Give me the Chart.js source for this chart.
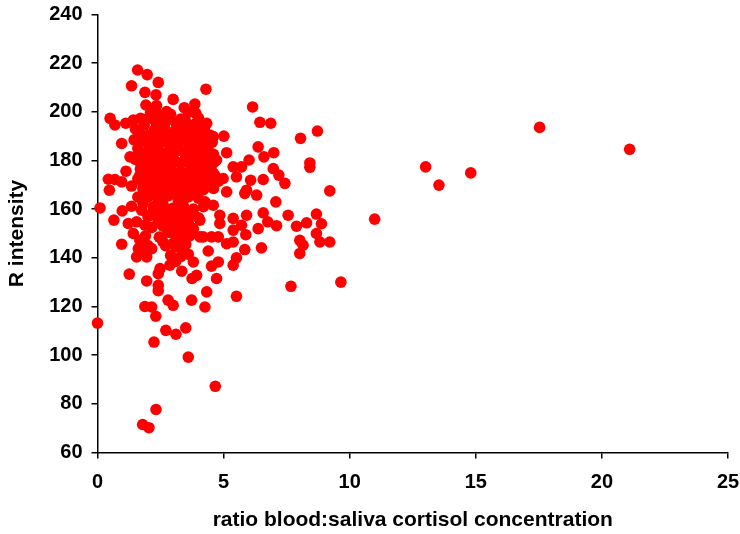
<!DOCTYPE html>
<html><head><meta charset="utf-8">
<script src="https://cdn.jsdelivr.net/npm/chart.js@4/dist/chart.umd.min.js"></script>
<style>html,body{margin:0;padding:0;background:#fff}#wrap{width:740px;height:534px;position:relative}</style>
</head><body><div id="wrap"><canvas id="c"></canvas></div>
<script>
const xTitle = 'ratio blood:saliva cortisol concentration';
const yTitle = 'R intensity';
const xTickValues = [0, 5, 10, 15, 20, 25];
const yTickValues = [60, 80, 100, 120, 140, 160, 180, 200, 220, 240];

const upperLeft = [
[1.59,217.2],[1.97,215.3],[2.41,212.1],[1.35,210.7],[1.88,208],[2.32,207],[3.0,205.1],[3.86,203.2],[4.3,209.3],[1.92,202.8],[2.34,202.6],[3.44,201.7],[2.74,200.1],[3.9,199.4],[3.86,195],[4.26,191.3],
[0.5,197.3],[0.69,194.6],[1.12,195.3],[1.42,196.6],[1.71,197.3],[0.96,187],[1.29,181.5],[1.49,181.5],[1.13,175.6],[0.43,172.3],[0.69,172.2],[0.96,171.2],[0.47,167.8],[1.35,169.5],[1.68,174],[1.88,167.1]
];
const denseCore = [
[2.1,199.5],[2.5,197.5],[2.9,199],[3.3,197],[3.6,199.8],[4.0,197.5],[2.3,200.5],
[1.5,193],[1.85,194.5],[2.25,192.5],[2.65,194],[3.05,192],[3.45,193.8],[3.85,192.5],[4.25,194],
[1.45,188.5],[1.8,190],[2.2,188],[2.6,189.5],[3.0,188],[3.4,190],[3.8,188.5],[4.2,189],[4.55,187.5],
[1.6,185],[2.0,184],[2.4,185.5],[2.8,183.5],[3.2,185],[3.6,184],[4.0,185.5],[4.4,184],
[1.5,180.5],[1.9,181.5],[2.3,180],[2.7,181],[3.1,179.5],[3.5,181.5],[3.9,180],[4.3,181],[4.65,179.5],
[1.7,176.5],[2.1,177.5],[2.5,176],[2.9,177],[3.3,175.5],[3.7,177.5],[4.1,176],[4.5,177],
[1.6,172.5],[2.0,173.5],[2.4,172],[2.8,173],[3.2,171.5],[3.6,173.5],[4.0,172],[4.4,173],[4.8,171.5],
[1.8,168.5],[2.2,169.5],[2.6,168],[3.0,169],[3.4,167.5],[3.8,169.5],[4.2,168],[4.6,168.5]
];
const denseCoreFill = [
[2.7,196.5],[3.1,195.5],[3.5,196],[2.3,196],[1.9,196.8],
[1.65,191],[2.05,190.5],[2.45,191],[2.85,190.5],[3.25,191.5],[3.65,190.5],[4.05,191],[4.45,190.5],
[1.65,187],[2.05,186.5],[2.45,187],[2.85,186.5],[3.25,187.5],[3.65,186.5],[4.05,187],[4.4,186.5],
[1.75,183],[2.15,182.5],[2.55,183],[3.0,182.5],[3.4,183.5],[3.8,182.5],[4.2,183],[4.6,182.5],
[1.7,179],[2.1,178.5],[2.5,179],[2.9,178.5],[3.3,179],[3.7,179],[4.1,178.5],[4.5,179.5],
[1.85,174.5],[2.25,175],[2.65,174.5],[3.05,174],[3.45,174.5],[3.85,174.5],[4.25,175],[4.65,174],
[1.8,170.5],[2.2,171],[2.6,170.5],[3.0,171],[3.4,170.5],[3.8,171],[4.2,170.5],[4.6,170.5],
[2.0,167],[2.4,166.5],[2.8,167],[3.2,166.5],[3.6,167],[4.0,167]
];
const lowerCore = [
[1.6,165],[2.0,165],[2.4,164],[2.8,165.5],[3.2,164],[3.6,165],[4.0,164.5],
[1.8,162.5],[2.2,161],[2.6,162],[3.0,160.5],[3.4,161.5],[3.8,160],[4.2,161],
[2.0,157],[2.4,156],[2.8,157.5],[3.2,156],[3.6,157],[4.0,156.5],
[2.15,152.5],[2.6,153],[3.0,152],[3.4,153.5],[3.8,152],
[1.9,149],[2.45,148.5],[3.0,150],[3.3,147.5],[3.65,149],
[2.0,145],[2.7,145],[3.1,144.5],[3.5,145.5],
[2.9,141],[3.3,140.5],[3.6,141.5],
[1.22,154.1],[1.55,154.8],[1.88,153.4],[1.42,150],[1.68,147.2],[1.62,143.8],[2.15,143.8],[1.55,140.4],[1.95,140.4],[1.81,141.8],
[0.98,159.3],[1.35,161.2],[1.75,159.6],
[2.2,159],[2.6,159.5],[3.0,158.5],[3.4,159],[3.8,158],[2.4,154.5],[2.8,155],[3.2,154],[3.6,154.5],[2.8,150.5],[3.2,151],[3.5,150.5],[2.6,146.5],[3.0,146],[3.4,143],[3.1,138.5]
];
const rightSpread = [
[6.15,202],[6.44,195.7],[6.87,195.3],[5.01,190],[4.33,195.3],[4.59,189.8],[5.12,183.2],[4.72,180.2],[6.37,185.6],[6.6,181.5],[6.99,183.2],[6.01,180.2],[5.71,177.4],[5.38,177.4],[6.97,176.7],[7.19,174],[7.43,170.6],[6.57,172.2],[6.07,171.9],[4.59,174.7],[4.98,172.6],[5.51,173.3],[5.12,167.1],[5.91,167.8],[6.31,165.8],[5.84,166.5],
[4.26,163],[4.59,161.6],[4.85,157.5],[5.38,156.2],[5.71,153.4],[5.91,157.5],[6.57,158.5],[6.75,154.8],[7.07,163],[7.56,157.5],[7.1,153.2],[6.37,152],[6.5,144.1],[5.88,149.5],[5.38,146.5],[5.84,143.4],[5.51,140],[5.38,137],[4.79,138.3],[4.52,136.6],[4.72,131.5],[4.19,148.6],[4.79,148.6],[4.39,142.8],[4.52,148.6],[5.12,145.8],[5.38,151.4],[4.85,154.1],[4.06,155.5],[4.06,148.6],[3.8,138.3],[3.75,131.5],[3.93,132.8],[3.34,134.5],[4.33,126],[5.51,124.2],[4.26,119.8]
];
const farRight = [
[8.05,189.1],[8.72,192.1],[8.42,179],[8.42,177.2],[9.21,167.5],[8.68,158],[8.88,154],[8.29,154.4],[7.89,153],[8.02,147.2],[8.15,145.2],[8.02,141.8],[8.68,150],[8.82,146.5],[9.21,146.5],[9.65,130],[7.67,128.3],[10.99,155.9],[13.01,177.4],[13.54,169.9],[14.8,174.9],[17.53,193.6],[21.1,184.6]
];
const lowerLeft = [
[0.1,160.5],[0.65,155.5],[0.96,145.6],[1.26,133.3],[0.0,113.2],[1.95,130.5],[2.41,128.7],[2.41,126.5],[1.88,120],[2.15,119.8],[2.31,116],[2.8,122.6],[3.0,120.5],[2.71,110.2],[3.11,108.6],[3.5,111.2],[3.73,122.6],[2.24,105.4],[3.6,99.2],[4.67,87.2],[2.32,77.7],[1.79,71.5],[2.04,70.2],[2.48,135.6],[2.41,133.5],[2.87,137]
];

const points = [].concat(upperLeft, denseCore, denseCoreFill, lowerCore, rightSpread, farRight, lowerLeft)
  .map(([x, y]) => ({ x, y }));

const fontFam = "'Liberation Sans', Arial, sans-serif";
const tickFont = { family: fontFam, weight: 'bold', size: 20 };
const titleFont = { family: fontFam, weight: 'bold', size: 21 };

new Chart(document.getElementById('c'), {
  type: 'scatter',
  data: { datasets: [{
    data: points,
    pointRadius: 5.8,
    pointHoverRadius: 5.8,
    backgroundColor: '#ff0000',
    borderColor: '#ff0000',
    borderWidth: 0,
    clip: false
  }]},
  options: {
    responsive: true,
    maintainAspectRatio: false,
    devicePixelRatio: 1,
    animation: false,
    events: [],
    layout: { padding: { top: 14.5, right: 12, left: 0, bottom: 0 } },
    plugins: { legend: { display: false }, tooltip: { enabled: false } },
    scales: {
      x: {
        type: 'linear', min: 0, max: 25,
        afterBuildTicks: s => { s.ticks = xTickValues.map(v => ({ value: v })); },
        afterFit: s => { s.height = 81.5; s.paddingLeft = 0; s.paddingRight = 0; },
        ticks: { font: tickFont, color: '#000', padding: 12, maxRotation: 0, autoSkip: false },
        grid: { drawOnChartArea: false, drawTicks: true, tickLength: 6, color: '#000', lineWidth: 1.5 },
        border: { color: '#000', width: 1.5 },
        title: { display: true, text: xTitle, font: titleFont, color: '#000', padding: { top: 0, bottom: 1 } }
      },
      y: {
        type: 'linear', min: 60, max: 240,
        afterBuildTicks: s => { s.ticks = yTickValues.map(v => ({ value: v })); },
        afterFit: s => { s.width = 97.5; s.paddingTop = 0; s.paddingBottom = 0; },
        ticks: { font: tickFont, color: '#000', padding: 9, autoSkip: false },
        grid: { drawOnChartArea: false, drawTicks: true, tickLength: 6, color: '#000', lineWidth: 1.5 },
        border: { color: '#000', width: 1.5 },
        title: { display: true, text: yTitle, font: titleFont, color: '#000', padding: { top: 5, bottom: 0 } }
      }
    }
  }
});
</script>
</body></html>
